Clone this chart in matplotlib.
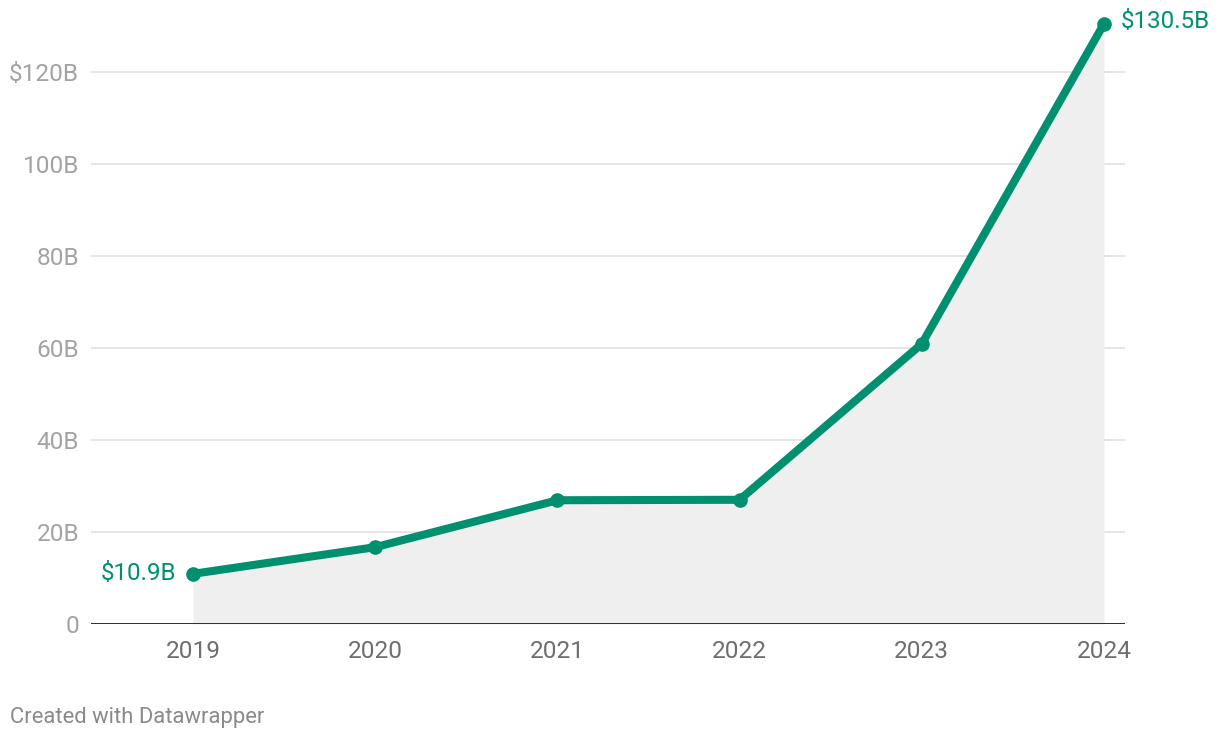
import matplotlib.pyplot as plt

plt.rcParams['font.family'] = ['Roboto', 'DejaVu Sans']

years = [2019, 2020, 2021, 2022, 2023, 2024]
revenue = [10.9, 16.7, 26.9, 27.0, 60.9, 130.5]
y_ticks = [0, 20, 40, 60, 80, 100, 120]
y_labels = ['0', '20B', '40B', '60B', '80B', '100B', '$120B']

green = '#00906f'

fig = plt.figure(figsize=(12.2, 7.4), dpi=100)
ax = fig.add_axes([0.0746, 0.1568, 0.8475, 0.8205])

# сетка и заливка под линией
for t in y_ticks[1:]:
    ax.axhline(t, color='#e3e3e3', linewidth=1.3, zorder=0)
ax.fill_between(years, revenue, 0, color='#efefef', linewidth=0, zorder=1)
ax.axhline(0, color='#1a1a1a', linewidth=2, zorder=4)

ax.plot(years, revenue, color=green, linewidth=5.8, solid_capstyle='round',
        marker='o', markersize=9.5, zorder=5, clip_on=False)

# подписи крайних точек
ax.annotate(f'${revenue[0]}B', (years[0], revenue[0]), xytext=(-17, 0),
            textcoords='offset pixels', ha='right', va='center',
            color=green, fontsize=17.4)
ax.annotate(f'${revenue[-1]}B', (years[-1], revenue[-1]), xytext=(17, 2),
            textcoords='offset pixels', ha='left', va='center',
            color=green, fontsize=17.4)

ax.set_xlim(2018.44, 2024.115)
ax.set_ylim(0, 132)
ax.set_xticks(years)
ax.set_xticklabels([str(y) for y in years], color='#6e6e6e', fontsize=17.6)
ax.set_yticks(y_ticks)
ax.set_yticklabels(y_labels, color='#a3a3a3', fontsize=17.6)
ax.tick_params(axis='both', length=0)
ax.tick_params(axis='x', pad=11.5)
ax.tick_params(axis='y', pad=8.5)
for s in ax.spines.values():
    s.set_visible(False)

fig.text(10 / 1220, 1 - 717 / 740, 'Created with Datawrapper', color='#8a8a8a',
         fontsize=15.8, ha='left', va='center')

fig.savefig('out.png', dpi=100)
